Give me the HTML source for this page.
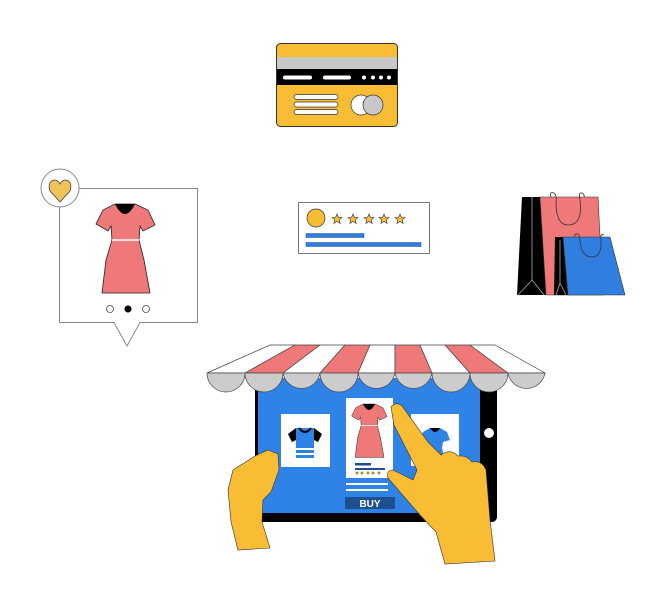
<!DOCTYPE html>
<html><head><meta charset="utf-8"><style>html,body{margin:0;padding:0;background:#fff}svg{display:block}</style></head>
<body>
<svg width="647" height="608" viewBox="0 0 647 608" xmlns="http://www.w3.org/2000/svg">
<defs>
<g id="dress">
<path d="M115,204 L135,204 L148,210 L155,225 L143,231 L140,226 L139,240 L144,260 L150,293 L102,293 L106,260 L112,240 L111,226 L108,231 L96,224 L103,210 Z" fill="#ef7878" stroke="#222" stroke-width="0.8"/>
<path d="M115,204 Q125,224 135,204 Z" fill="#000"/>
<line x1="112" y1="240" x2="139" y2="240" stroke="#fff" stroke-width="1.5"/>
</g>
<path id="star" d="M0,-5 L1.5,-1.6 L5,-1.5 L2.3,0.8 L3.1,4.5 L0,2.5 L-3.1,4.5 L-2.3,0.8 L-5,-1.5 L-1.5,-1.6 Z" fill="#f7bc3a" stroke="#333" stroke-width="0.6"/>
</defs>

<!-- credit card -->
<rect x="276.5" y="43.5" width="121" height="83" rx="4" fill="#f9bc35" stroke="#333"/>
<rect x="277" y="57" width="120" height="12" fill="#c8c8c8"/>
<rect x="277" y="69" width="120" height="16" fill="#000"/>
<rect x="283" y="75.5" width="29" height="4" rx="2" fill="#fff"/>
<rect x="323" y="75.5" width="28" height="4" rx="2" fill="#fff"/>
<circle cx="364" cy="77.5" r="2" fill="#fff"/><circle cx="373" cy="77.5" r="2" fill="#fff"/><circle cx="381" cy="77.5" r="2" fill="#fff"/><circle cx="389" cy="77.5" r="2" fill="#fff"/>
<rect x="294" y="94.5" width="44" height="5" rx="2.5" fill="#fff" stroke="#333" stroke-width="0.7"/>
<rect x="294" y="102" width="44" height="5" rx="2.5" fill="#fff" stroke="#333" stroke-width="0.7"/>
<rect x="294" y="109.5" width="44" height="5" rx="2.5" fill="#fff" stroke="#333" stroke-width="0.7"/>
<circle cx="361" cy="105" r="10" fill="#fff" stroke="#333" stroke-width="0.7"/>
<circle cx="373" cy="105" r="10" fill="#c8c8c8" stroke="#333" stroke-width="0.7"/>

<!-- review -->
<rect x="298.5" y="202.5" width="131" height="51" fill="#fff" stroke="#777"/>
<circle cx="316" cy="218" r="9" fill="#f9bc35" stroke="#333" stroke-width="0.7"/>
<use href="#star" x="337" y="219"/><use href="#star" x="353" y="219"/><use href="#star" x="369" y="219"/><use href="#star" x="384" y="219"/><use href="#star" x="400" y="219"/>
<rect x="306" y="233.5" width="58" height="4" fill="#2f7ee0" stroke="#1e4f8f" stroke-width="0.5"/>
<rect x="306" y="242.5" width="115" height="4" fill="#2f7ee0" stroke="#1e4f8f" stroke-width="0.5"/>

<!-- bags -->
<polygon points="522,197 540,197 546,295 517,295" fill="#000"/>
<polygon points="540,197 598,197 603,295 546,295" fill="#ef7878" stroke="#333" stroke-width="0.6"/>
<path d="M532,197 L532,280 L518,295 M532,280 L544,295" stroke="#aaa" stroke-width="0.8" fill="none"/>
<path d="M551,197 Q549,191 554,193 Q557,195 556,202 Q556,225 568,225 Q583,225 580,200 Q578,192 582,193 Q585,195 584,197" stroke="#333" stroke-width="0.8" fill="none"/>
<polygon points="555,237 563,237 568,295 554,295" fill="#000"/>
<polygon points="563,237 610,237 625,295 568,295" fill="#2f7ee0" stroke="#333" stroke-width="0.6"/>
<path d="M560,240 L560,283 L556,295 M560,283 L566,295" stroke="#aaa" stroke-width="0.8" fill="none"/>
<path d="M575,237 Q574,233 578,234 Q580,236 580,242 Q582,257 592,257 Q602,257 601,240 Q600,233 604,235" stroke="#333" stroke-width="0.8" fill="none"/>

<!-- dress card -->
<path d="M59.5,188.5 L197.5,188.5 L197.5,322.5 L140,322.5 L127,346 L114,322.5 L59.5,322.5 Z" fill="#fff" stroke="#888"/>
<circle cx="60" cy="188" r="19" fill="#fff" stroke="#888"/>
<path d="M60,202 L50,191 Q47,182 54,180 Q58,180 60,184 Q62,180 66,180 Q73,182 70,191 Z" fill="#f0c35a" stroke="#444" stroke-width="0.8"/>
<use href="#dress"/>
<circle cx="110" cy="309" r="3.5" fill="#fff" stroke="#444" stroke-width="0.8"/>
<circle cx="128" cy="309" r="3.5" fill="#000"/>
<circle cx="146" cy="309" r="3.5" fill="#fff" stroke="#444" stroke-width="0.8"/>

<!-- tablet -->
<rect x="255" y="378" width="242" height="144" rx="5" fill="#000"/>
<rect x="258" y="378" width="222" height="135" fill="#2f83e6"/>
<circle cx="489" cy="433" r="5" fill="#fff"/>

<!-- awning -->
<g stroke="#444" stroke-width="0.7">
<polygon points="270,345 295,345 245,373 207,373" fill="#fff"/>
<polygon points="295,345 320,345 283,373 245,373" fill="#ef7878"/>
<polygon points="320,345 345,345 320,373 283,373" fill="#fff"/>
<polygon points="345,345 370,345 358,373 320,373" fill="#ef7878"/>
<polygon points="370,345 395,345 395,373 358,373" fill="#fff"/>
<polygon points="395,345 420,345 432,373 395,373" fill="#ef7878"/>
<polygon points="420,345 445,345 470,373 432,373" fill="#fff"/>
<polygon points="445,345 470,345 508,373 470,373" fill="#ef7878"/>
<polygon points="470,345 495,345 545,373 508,373" fill="#fff"/>
<path d="M207,373 A18.8,18.8 0 0 0 245,373 A18.8,18.8 0 0 0 283,373 A18.8,18.8 0 0 0 320,373 A18.8,18.8 0 0 0 358,373 A18.8,18.8 0 0 0 395,373 A18.8,18.8 0 0 0 432,373 A18.8,18.8 0 0 0 470,373 A18.8,18.8 0 0 0 508,373 A18.8,18.8 0 0 0 545,373 Z" fill="#ccc"/>
</g>

<!-- product cards -->
<rect x="281" y="414" width="49" height="53" fill="#fff"/>
<path d="M296,428 L314,428 L322,434 L318,442 L314,440 L314,458 L296,458 L296,440 L292,442 L288,434 Z" fill="#2f83e6"/>
<path d="M288,434 L296,428 L296,440 L292,442 Z M322,434 L314,428 L314,440 L318,442 Z" fill="#000"/>
<path d="M299,428 Q305,436 311,428" fill="none" stroke="#000" stroke-width="2"/>
<rect x="296" y="448" width="18" height="2" fill="#fff"/><rect x="296" y="453" width="18" height="2" fill="#fff"/>
<rect x="346" y="398" width="47" height="80" fill="#fff"/>
<g transform="translate(369,404) scale(0.6) translate(-125,-204)"><use href="#dress"/></g>
<rect x="355" y="463" width="16" height="2.5" fill="#1e4f8f"/><rect x="355" y="468" width="30" height="2" fill="#1e4f8f"/>
<g fill="#a88a3a"><circle cx="357" cy="473" r="1.5"/><circle cx="362" cy="473" r="1.5"/><circle cx="368" cy="473" r="1.5"/><circle cx="373" cy="473" r="1.5"/><circle cx="379" cy="473" r="1.5"/></g>
<rect x="346" y="483" width="42" height="2" fill="#fff"/><rect x="346" y="489" width="42" height="2" fill="#fff"/>
<rect x="345" y="497" width="50" height="12" fill="#1e4f8f"/>
<text x="370" y="507" text-anchor="middle" font-family="Liberation Sans, sans-serif" font-size="10" font-weight="bold" fill="#fff">BUY</text>
<rect x="411" y="414" width="48" height="52" fill="#fff"/>
<path d="M430,428 L440,428 L447,432 L450,440 L443,442 L442,448 L446,466 L424,466 L428,448 L427,442 L420,440 L423,432 Z" fill="#2f83e6"/>
<path d="M430,428 Q435,436 440,428 Z" fill="#000"/>

<!-- hands -->
<path d="M233,470 L255,456 L268,450 L278,454 L279,470 L271,492 L263,500 L262,522 L270,548 L238,550 L231,522 L228,490 Z" fill="#f9bc35" stroke="#333" stroke-width="0.6"/>
<path d="M391,407 Q396,401 402,406 L428,442 L441,455 Q450,448 458,456 Q467,455 472,462 Q482,460 486,470 L490,520 L495,561 L445,564 L436,532 L420,515 L400,492 L388,478 Q386,470 393,470 L413,480 L417,470 L394,425 Z" fill="#f9bc35" stroke="#333" stroke-width="0.6"/>
</svg>
</body></html>
